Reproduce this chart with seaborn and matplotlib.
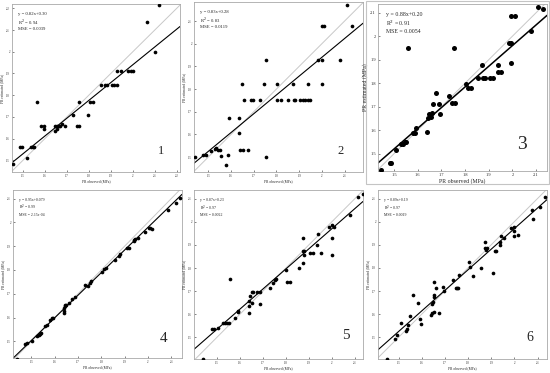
import numpy as np
import pandas as pd
import seaborn as sns
import matplotlib.pyplot as plt
from matplotlib.patches import Rectangle

# observed / estimated PR (MPa) read per panel
obs1 = [1.455, 1.488, 1.495, 1.518, 1.536, 1.544, 1.552, 1.564, 1.582, 1.594, 1.597, 1.644, 1.647, 1.655, 1.655,
        1.662, 1.670, 1.677, 1.692, 1.730, 1.745, 1.756, 1.753, 1.798, 1.806, 1.818, 1.855, 1.874, 1.882, 1.905,
        1.915, 1.930, 1.930, 1.945, 1.980, 1.991, 2.003, 2.064, 2.102, 2.121]
est1 = [1.482, 1.562, 1.562, 1.511, 1.562, 1.562, 1.562, 1.769, 1.657, 1.657, 1.643, 1.635, 1.657, 1.657, 1.643,
        1.657, 1.657, 1.666, 1.657, 1.708, 1.657, 1.657, 1.769, 1.708, 1.769, 1.769, 1.846, 1.846, 1.846, 1.846,
        1.846, 1.846, 1.911, 1.911, 1.911, 1.911, 1.911, 2.138, 2.000, 2.215]

obs2 = [1.441, 1.478, 1.490, 1.510, 1.529, 1.536, 1.544, 1.551, 1.554, 1.578, 1.588, 1.593, 1.637, 1.637, 1.640,
        1.651, 1.647, 1.657, 1.676, 1.687, 1.696, 1.728, 1.743, 1.754, 1.754, 1.801, 1.804, 1.819, 1.853, 1.872,
        1.876, 1.882, 1.904, 1.916, 1.926, 1.937, 1.937, 1.949, 1.985, 2.000, 2.000, 2.000, 2.010, 2.078, 2.110,
        2.132]
est2 = [1.500, 1.507, 1.507, 1.525, 1.535, 1.538, 1.532, 1.532, 1.503, 1.466, 1.507, 1.674, 1.674, 1.606, 1.529,
        1.529, 1.824, 1.753, 1.529, 1.750, 1.750, 1.750, 1.824, 1.929, 1.500, 1.824, 1.750, 1.750, 1.750, 1.824,
        1.753, 1.753, 1.753, 1.753, 1.753, 1.824, 1.753, 1.750, 1.929, 1.929, 1.824, 2.076, 2.076, 1.929, 2.169,
        2.076]

obs3 = [1.446, 1.482, 1.489, 1.510, 1.531, 1.538, 1.545, 1.552, 1.580, 1.587, 1.594, 1.559, 1.641, 1.642, 1.648,
        1.655, 1.660, 1.665, 1.675, 1.689, 1.693, 1.731, 1.745, 1.756, 1.754, 1.803, 1.813, 1.824, 1.855, 1.872,
        1.876, 1.883, 1.904, 1.918, 1.937, 1.937, 1.951, 1.985, 1.996, 1.996, 1.996, 2.010, 2.077, 2.108, 2.130]
est3 = [1.431, 1.461, 1.461, 1.514, 1.540, 1.540, 1.548, 1.548, 1.588, 1.588, 1.609, 1.951, 1.591, 1.650, 1.670,
        1.655, 1.675, 1.713, 1.756, 1.713, 1.670, 1.744, 1.717, 1.717, 1.951, 1.796, 1.781, 1.781, 1.824, 1.877,
        1.824, 1.824, 1.824, 1.824, 1.877, 1.848, 1.848, 1.973, 1.973, 1.884, 2.086, 2.086, 2.023, 2.123, 2.114]

obs4 = [1.439, 1.474, 1.481, 1.503, 1.524, 1.531, 1.536, 1.541, 1.560, 1.567, 1.581, 1.589, 1.593, 1.639, 1.643,
        1.646, 1.650, 1.639, 1.639, 1.660, 1.674, 1.689, 1.731, 1.741, 1.750, 1.756, 1.803, 1.813, 1.821, 1.860,
        1.874, 1.881, 1.910, 1.917, 1.939, 1.942, 1.946, 1.956, 1.989, 2.003, 2.010, 2.017, 2.084, 2.121, 2.139]
est4 = [1.427, 1.489, 1.493, 1.500, 1.521, 1.528, 1.531, 1.535, 1.563, 1.567, 1.591, 1.598, 1.598, 1.640, 1.647,
        1.651, 1.654, 1.626, 1.619, 1.661, 1.679, 1.685, 1.738, 1.731, 1.745, 1.752, 1.790, 1.806, 1.809, 1.843,
        1.857, 1.866, 1.893, 1.893, 1.921, 1.925, 1.932, 1.936, 1.959, 1.975, 1.978, 1.973, 2.052, 2.080, 2.104]

obs5 = [1.442, 1.478, 1.486, 1.507, 1.526, 1.536, 1.543, 1.551, 1.558, 1.577, 1.590, 1.594, 1.638, 1.641, 1.645,
        1.642, 1.652, 1.652, 1.659, 1.674, 1.688, 1.686, 1.729, 1.743, 1.754, 1.758, 1.801, 1.807, 1.819, 1.855,
        1.874, 1.874, 1.874, 1.880, 1.880, 1.906, 1.917, 1.935, 1.938, 1.952, 1.986, 2.000, 2.000, 2.000, 2.010,
        2.080, 2.112, 2.135]
est5 = [1.407, 1.537, 1.537, 1.540, 1.561, 1.561, 1.564, 1.561, 1.751, 1.586, 1.612, 1.614, 1.607, 1.637, 1.681,
        1.658, 1.647, 1.695, 1.695, 1.695, 1.643, 1.695, 1.712, 1.734, 1.748, 1.751, 1.791, 1.741, 1.741, 1.799,
        1.820, 1.928, 1.873, 1.873, 1.856, 1.866, 1.863, 1.899, 1.945, 1.863, 1.978, 1.986, 1.931, 1.856, 1.978,
        2.029, 2.108, 2.118]

obs6 = [1.450, 1.483, 1.494, 1.512, 1.532, 1.538, 1.541, 1.551, 1.563, 1.583, 1.591, 1.597, 1.642, 1.645, 1.645,
        1.647, 1.652, 1.652, 1.655, 1.655, 1.662, 1.676, 1.691, 1.698, 1.734, 1.748, 1.752, 1.757, 1.760, 1.803,
        1.810, 1.820, 1.858, 1.875, 1.875, 1.882, 1.878, 1.906, 1.915, 1.921, 1.940, 1.940, 1.942, 1.954, 1.987,
        2.000, 1.997, 2.000, 2.014, 2.076, 2.079, 2.112, 2.134]
est6 = [1.407, 1.494, 1.508, 1.561, 1.528, 1.536, 1.554, 1.590, 1.681, 1.647, 1.580, 1.557, 1.597, 1.607, 1.643,
        1.652, 1.609, 1.738, 1.681, 1.676, 1.715, 1.604, 1.719, 1.698, 1.748, 1.712, 1.715, 1.715, 1.770, 1.824,
        1.806, 1.767, 1.799, 1.914, 1.885, 1.885, 1.878, 1.777, 1.871, 1.871, 1.910, 1.899, 1.940, 1.928, 1.974,
        1.978, 1.940, 1.960, 1.942, 2.050, 2.012, 2.065, 2.108]

slopes = [0.82, 0.83, 0.88, 0.95, 0.87, 0.89]
intercepts = [0.30, 0.28, 0.20, 0.079, 0.23, 0.19]
eq_text = ["y = 0.82x+0.30\nR$^2$ = 0.94\nMSE = 0.0039",
           "y = 0.83x+0.28\nR$^2$ = 0.83\nMSE = 0.0119",
           "y = 0.88x+0.20\nR$^2$ = 0.91\nMSE = 0.0054",
           "y = 0.95x+0.079\nR$^2$ = 0.99\nMSE = 2.15e-04",
           "y = 0.87x+0.23\nR$^2$ = 0.97\nMSE = 0.0022",
           "y = 0.89x+0.19\nR$^2$ = 0.97\nMSE = 0.0019"]
panel_ids = ["1", "2", "3", "4", "5", "6"]
obs_all = [obs1, obs2, obs3, obs4, obs5, obs6]
est_all = [est1, est2, est3, est4, est5, est6]

# layout (pixel boxes left, top, right, bottom) and axis limits
W, H = 550, 373
boxes = [(12, 4, 180, 172), (194, 2, 363, 172), (378, 4, 547, 171),
         (13, 190, 182, 358), (194, 190, 363, 359), (378, 190, 547, 359)]
xlims = [(1.45, 2.215), (1.437, 2.181), (1.432, 2.146), (1.421, 2.146), (1.401, 2.135), (1.411, 2.141)]
ylims = [(1.446, 2.22), (1.434, 2.184), (1.426, 2.137), (1.430, 2.136), (1.407, 2.137), (1.406, 2.137)]
xticks = [[1.5, 1.6, 1.7, 1.8, 1.9, 2, 2.1, 2.2]] + [[1.5, 1.6, 1.7, 1.8, 1.9, 2, 2.1]] * 5
yticks = [[1.5, 1.6, 1.7, 1.8, 1.9, 2, 2.1, 2.2]] + [[1.5, 1.6, 1.7, 1.8, 1.9, 2, 2.1]] * 5
num_size = [9, 9, 14, 11, 11, 10]
num_pos = [(0.89, 0.09), (0.87, 0.09), (0.85, 0.11), (0.89, 0.08), (0.90, 0.10), (0.90, 0.09)]

sns.set_theme(style='white')
plt.rcParams['font.family'] = ['Liberation Serif', 'DejaVu Serif']

fig = plt.figure(figsize=(W / 100, H / 100), dpi=100)
fig.patch.set_facecolor('white')
# frame around the third sub-figure
fig.add_artist(Rectangle((366 / W, 1 - 184 / H), 183 / W, 183 / H, transform=fig.transFigure,
                         fill=False, edgecolor='#c4c4c4', linewidth=0.8))

for i in range(6):
    l, t, r, b = boxes[i]
    ax = fig.add_axes([l / W, 1 - b / H, (r - l) / W, (b - t) / H])
    big = (i == 2)
    df = pd.DataFrame({"obs": obs_all[i], "est": est_all[i]})
    ax.axline((0, 0), slope=1, color='#c8c8c8', lw=0.7, zorder=1)
    ax.axline((0, intercepts[i]), slope=slopes[i], color='black', lw=1.1 if big else 0.8, zorder=2)
    sns.scatterplot(data=df, x="obs", y="est", ax=ax, color='black', s=13 if big else 7,
                    edgecolor='black', linewidth=0, zorder=3)
    ax.set_xlim(*xlims[i])
    ax.set_ylim(*ylims[i])
    ax.set_xticks(xticks[i])
    ax.set_yticks(yticks[i])
    ax.set_xticklabels([f"{v:g}" for v in xticks[i]])
    ax.set_yticklabels([f"{v:g}" for v in yticks[i]])
    ax.tick_params(direction='in', length=1.5, width=0.4, pad=1.5, labelsize=3.2 if big else 2.2,
                   bottom=True, left=True)
    ax.set_xlabel("PR observed (MPa)", fontsize=4.2 if big else 2.6, labelpad=1)
    ax.set_ylabel("PR estimated (MPa)", fontsize=4.2 if big else 2.6, labelpad=1.5)
    for sp in ax.spines.values():
        sp.set_color('#a8a8a8')
        sp.set_linewidth(0.6)
    ax.text(0.035 if not big else 0.045, 0.955, eq_text[i], transform=ax.transAxes, va='top', ha='left',
            fontsize=4.2 if big else (2.8 if i in (3, 4, 5) else 3.4), linespacing=1.25)
    ax.text(num_pos[i][0], num_pos[i][1], panel_ids[i], transform=ax.transAxes, ha='center', va='bottom',
            fontsize=num_size[i])

plt.savefig("out.png", dpi=100, facecolor='white')
